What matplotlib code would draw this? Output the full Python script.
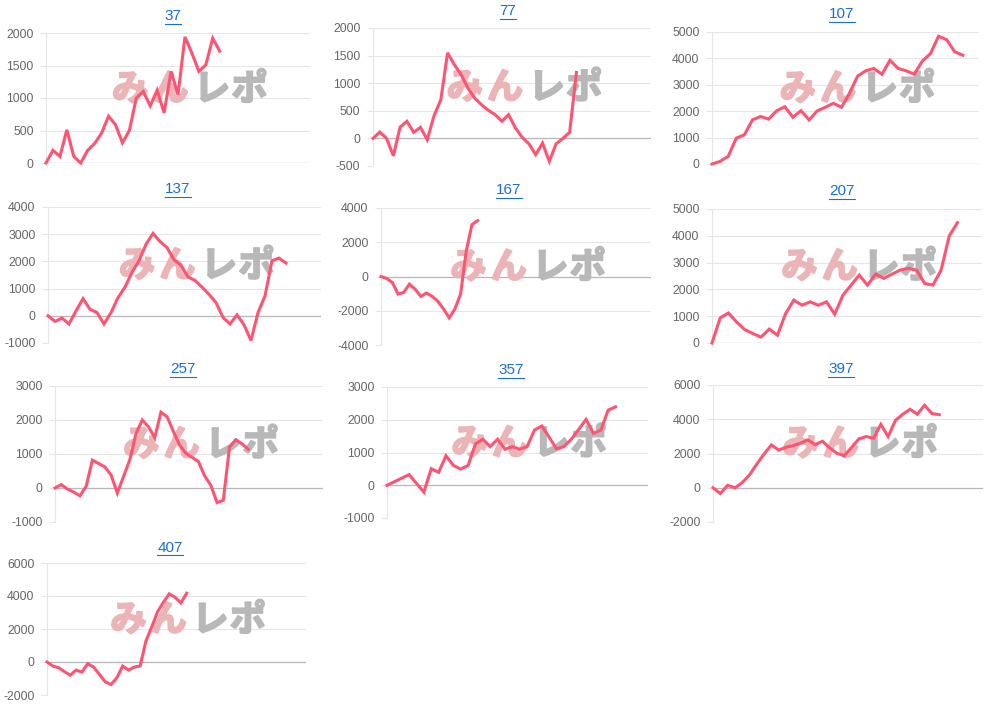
import matplotlib

matplotlib.use("Agg")
import matplotlib.pyplot as plt  # noqa: E402
import matplotlib.patheffects as pe  # noqa: E402
from matplotlib.lines import Line2D  # noqa: E402

W, H = 992, 705
LINE, BLUE, TICK = "#ff5371", "#1a6fd6", "#666666"
GRID, ZERO = "#e6e6e6", "#b8b8b8"

plt.rcParams["font.family"] = ["Liberation Sans", "Noto Sans CJK JP", "DejaVu Sans"]
plt.rcParams["axes.unicode_minus"] = False

# ---- data ----
names = ["37", "77", "107", "137", "167", "207", "257", "357", "397", "407"]

s37 = [0, 195, 100, 510, 100, 0, 195, 300, 460, 720, 590, 310, 500, 1000, 1100, 880,
       1120, 770, 1410, 1050, 1940, 1690, 1410, 1510, 1920, 1720]
s77 = [0, 115, 0, -315, 205, 310, 110, 200, -25, 410, 700, 1550, 1335, 1155, 910, 730,
       610, 510, 430, 310, 430, 190, 20, -100, -295, -85, -415, -100, 0, 110, 1195]
s107 = [0, 100, 290, 980, 1105, 1670, 1800, 1700, 2020, 2170, 1770, 2020, 1670, 2010,
        2150, 2300, 2150, 2680, 3330, 3530, 3620, 3400, 3930, 3620, 3530, 3400, 3900,
        4180, 4840, 4710, 4250, 4120]
s137 = [0, -205, -85, -300, 180, 630, 240, 120, -300, 120, 665, 1055, 1600, 2025, 2630,
        3030, 2730, 2510, 2060, 1855, 1430, 1300, 1055, 790, 485, -60, -300, 35, -330,
        -910, 120, 730, 2025, 2120, 1940]
s167 = [0, -115, -350, -1025, -930, -445, -735, -1160, -965, -1160, -1450, -1895, -2415,
        -1895, -1025, 1490, 3030, 3265]
s207 = [0, 935, 1120, 785, 500, 350, 220, 520, 290, 1100, 1600, 1410, 1535, 1410, 1535,
        1075, 1785, 2160, 2535, 2160, 2570, 2410, 2570, 2720, 2785, 2720, 2220, 2160,
        2720, 4000, 4490]
s257 = [0, 100, -30, -120, -230, 50, 820, 720, 620, 380, -150, 340, 830, 1600, 2000,
        1800, 1480, 2230, 2090, 1660, 1260, 1020, 900, 780, 360, 80, -430, -360, 1200,
        1420, 1300, 1140]
s357 = [0, 108, 217, 325, 57, -210, 505, 395, 900, 605, 495, 605, 1265, 1405, 1180, 1405,
        1100, 1180, 1100, 1180, 1685, 1810, 1465, 1110, 1180, 1405, 1705, 2010, 1585,
        1685, 2295, 2395]
s397 = [0, -335, 140, 0, 295, 750, 1380, 1970, 2500, 2200, 2360, 2460, 2600, 2795, 2520,
        2715, 2320, 2010, 1870, 2360, 2855, 2990, 2890, 3700, 2990, 3935, 4290, 4585,
        4290, 4820, 4330, 4270]
s407 = [0, -245, -345, -590, -795, -490, -610, -100, -305, -750, -1200, -1365, -955,
        -245, -490, -305, -245, 1280, 2135, 3050, 3620, 4130, 3925, 3580, 4170]
series = [s37, s77, s107, s137, s167, s207, s257, s357, s397, s407]

yticks = [
    [0, 500, 1000, 1500, 2000],
    [-500, 0, 500, 1000, 1500, 2000],
    [0, 1000, 2000, 3000, 4000, 5000],
    [-1000, 0, 1000, 2000, 3000, 4000],
    [-4000, -2000, 0, 2000, 4000],
    [0, 1000, 2000, 3000, 4000, 5000],
    [-1000, 0, 1000, 2000, 3000],
    [-1000, 0, 1000, 2000, 3000],
    [-2000, 0, 2000, 4000, 6000],
    [-2000, 0, 2000, 4000, 6000],
]

# ---- layout (pixels): axes left, right, top, bottom; x slots; title x, baseline ----
boxes = [
    (46, 310, 33, 163), (373, 651, 28, 166), (712, 979, 32, 164),
    (48, 321, 207, 343), (381, 651, 208, 345), (712, 982, 209, 343),
    (55, 323, 386, 522), (387, 648, 387, 518), (713, 983, 385, 522),
    (47, 306, 563, 695),
]
slots = [38, 41, 33, 39, 47.5, 33, 43, 35.4, 37, 44.5]
titles_at = [
    (173, 20), (508, 15), (842, 18.3), (178, 193.3), (509, 194.3), (842, 195),
    (183, 373.3), (511, 374.3), (841, 373.3), (170, 551.7),
]

fig = plt.figure(figsize=(W / 100, H / 100), dpi=100)
fig.patch.set_facecolor("white")

title_texts = []
for name, vals, ticks, (l, r, t, b), n, (tx, ty) in zip(
    names, series, yticks, boxes, slots, titles_at
):
    ax = fig.add_axes([l / W, 1 - b / H, (r - l) / W, (b - t) / H])
    ax.set_xlim(0, n)
    ax.set_ylim(ticks[0], ticks[-1])
    ax.set_yticks(ticks)
    ax.set_xticks([])
    for sp in ["top", "right", "bottom"]:
        ax.spines[sp].set_visible(False)
    ax.spines["left"].set_color(GRID)
    ax.spines["left"].set_linewidth(0.8)
    ax.grid(axis="y", color=GRID, lw=0.8)
    ax.axhline(0, color=ZERO, lw=0.9, zorder=1.5)
    ax.tick_params(axis="y", length=4, width=0.8, color=GRID, pad=5,
                   labelsize=8.8, labelcolor=TICK)
    ax.set_axisbelow(True)

    # watermark logo
    for ch, dx, col in zip("みんレポ", [-43, -14, 16, 43],
                           ["#ebb4b7", "#ebb4b7", "#b8b8b8", "#b8b8b8"]):
        ax.annotate(ch, (0.545, 0.565), xycoords="axes fraction", xytext=(dx, 0),
                    textcoords="offset points", ha="center", va="center",
                    fontsize=26, fontweight="bold", color=col,
                    family=["Noto Sans CJK JP"], zorder=2,
                    path_effects=[pe.withStroke(linewidth=1.5, foreground=col)])

    ax.plot(range(len(vals)), vals, color=LINE, lw=2.2, zorder=3,
            solid_joinstyle="miter", clip_on=False)

    txt = fig.text(tx / W, 1 - ty / H, name, ha="center", va="baseline",
                   fontsize=11, color=BLUE)
    title_texts.append(txt)

# underline the titles like links
fig.canvas.draw()
for txt in title_texts:
    bb = txt.get_window_extent()
    y = (bb.y0 - 0.5) / H
    fig.add_artist(Line2D([bb.x0 / W, bb.x1 / W], [y, y], color=BLUE, lw=0.8,
                          transform=fig.transFigure))

fig.savefig("out.png", dpi=100)
